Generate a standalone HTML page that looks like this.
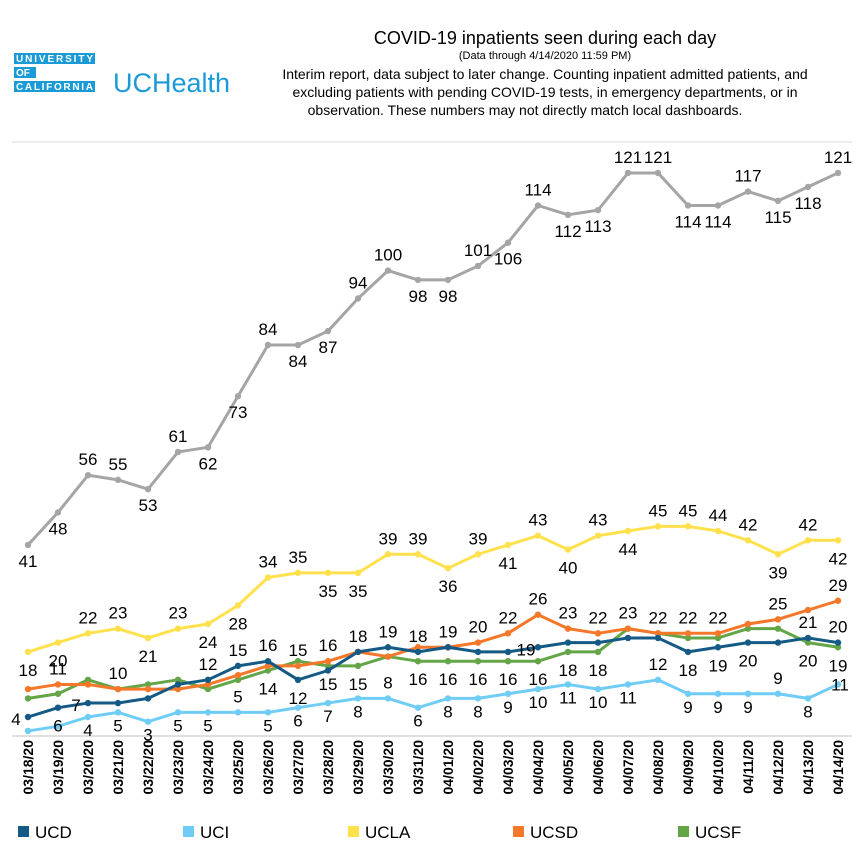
<!DOCTYPE html>
<html><head><meta charset="utf-8"><style>
body{margin:0;background:#fff;font-family:"Liberation Sans",Arial,sans-serif;}
#wrap{position:relative;width:866px;height:868px;overflow:hidden;}
</style></head><body>
<div id="wrap">
<svg id="svg" width="866" height="868" viewBox="0 0 866 868">
 <g>
  <rect x="14" y="53" width="81" height="11" fill="#1a9ad6"/>
  <rect x="14" y="67" width="22" height="11" fill="#1a9ad6"/>
  <rect x="14" y="81" width="81" height="11" fill="#1a9ad6"/>
  <text x="16" y="62" font-size="10" fill="#fff" font-weight="bold" textLength="77">UNIVERSITY</text>
  <text x="16" y="76" font-size="10" fill="#fff" font-weight="bold">OF</text>
  <text x="16" y="90" font-size="10" fill="#fff" font-weight="bold" textLength="77">CALIFORNIA</text>
  <text x="113" y="92" font-size="27" fill="#1a9ad6">UCHealth</text>
 </g>
 <text x="545" y="44" font-size="18" text-anchor="middle">COVID-19 inpatients seen during each day</text>
 <text x="545" y="59" font-size="11" text-anchor="middle">(Data through 4/14/2020 11:59 PM)</text>
 <g font-size="14" text-anchor="middle">
  <text x="545" y="79">Interim report, data subject to later change. Counting inpatient admitted patients, and</text>
  <text x="545" y="97">excluding patients with pending COVID-19 tests, in emergency departments, or in</text>
  <text x="525" y="115">observation.  These numbers may not directly match local dashboards.</text>
 </g>
 <line x1="12" y1="142" x2="852" y2="142" stroke="#d9d9d9"/>
 <line x1="12" y1="736" x2="852" y2="736" stroke="#bfbfbf"/>
 <g id="marks"></g>
 <g id="xlabels"></g>
 <g id="legend"></g>
</svg>
</div>
<script>
const dates=["03/18/20","03/19/20","03/20/20","03/21/20","03/22/20","03/23/20","03/24/20","03/25/20","03/26/20","03/27/20","03/28/20","03/29/20","03/30/20","03/31/20","04/01/20","04/02/20","04/03/20","04/04/20","04/05/20","04/06/20","04/07/20","04/08/20","04/09/20","04/10/20","04/11/20","04/12/20","04/13/20","04/14/20"];
const totalVals=[41,48,56,55,53,61,62,73,84,84,87,94,100,98,98,101,106,114,112,113,121,121,114,114,117,115,118,121];
const uclaVals=[18,20,22,23,21,23,24,28,34,35,35,35,39,39,36,39,41,43,40,43,44,45,45,44,42,39,42,42];
const ucsdVals=[10,11,11,10,10,10,11,13,15,15,16,18,17,19,19,20,22,26,23,22,23,22,22,22,24,25,27,29];
const ucdVals=[4,6,7,7,8,11,12,15,16,12,14,18,19,18,19,18,18,19,20,20,21,21,18,19,20,20,21,20];
const ucsfVals=[8,9,12,10,11,12,10,12,14,16,15,15,17,16,16,16,16,16,18,18,23,22,21,21,23,23,20,19];
const uciVals=[1,2,4,5,3,5,5,5,5,6,7,8,8,6,8,8,9,10,11,10,11,12,9,9,9,9,8,11];
const totalPos="bbaababbabbaabbababbaabbabba".split('');
const uclaPos="bbaababbaabbaababababaaaabab".split('');
const ucsdPos="-a-a-----aa----aaaaaaaaa-a-a".split('');
const ucdPos="lbl---aaab-aaaa--l----bbb-aa".split('');
const ucsfPos="--------b-bb-bbbbbbb------bb".split('');
const uciPos="--bbbbbabbbbabbbbbbbbabbbabr".split('');
const series=[
 {name:"total",vals:totalVals,pos:totalPos,color:"#a5a5a5",bo:22},
 {name:"ucla",vals:uclaVals,pos:uclaPos,color:"#ffe14d",bo:24},
 {name:"ucsf",vals:ucsfVals,pos:ucsfPos,color:"#63a547",bo:24},
 {name:"ucsd",vals:ucsdVals,pos:ucsdPos,color:"#f5772a",bo:24},
 {name:"ucd",vals:ucdVals,pos:ucdPos,color:"#145a85",bo:24},
 {name:"uci",vals:uciVals,pos:uciPos,color:"#6fcdf5",bo:19}
];
const legendNames=["UCD","UCI","UCLA","UCSD","UCSF"];
const legendColors=["#145a85","#6fcdf5","#ffe14d","#f5772a","#63a547"];
const NS="http://www.w3.org/2000/svg";
const xS=i=>28+i*30;
const yS=v=>735.6-v*4.65;
function mk(t,a,p){const e=document.createElementNS(NS,t);for(const k in a)e.setAttribute(k,a[k]);p.appendChild(e);return e;}
const marks=document.getElementById('marks');
series.forEach(s=>{
 const g=mk('g',{},marks);
 
 
 const l=mk('polyline',{points:s.vals.map((v,i)=>xS(i)+','+yS(v)).join(' '),fill:'none',stroke:s.color,'stroke-width':3,'stroke-linejoin':'round'},g);
 
 
 s.vals.forEach((v,i)=>{
  const c=mk('circle',{cx:xS(i),cy:yS(v),r:3.2,fill:s.color},g);
  
  
 });
});
series.forEach(s=>{
 s.vals.forEach((v,i)=>{
  const p=s.pos[i];if(!p||p==='-')return;
  let x=xS(i),y=yS(v);
  if(p==='a')y-=10;else if(p==='b')y+=s.bo;else if(p==='l'){x-=12;y+=8;}else if(p==='r'){x+=2;y+=6;}
  const t=mk('text',{x:x,y:y,'font-size':17,'text-anchor':'middle',fill:'#000'},marks);
  t.textContent=v;
  
  
 });
});
const xl=document.getElementById('xlabels');
dates.forEach((d,i)=>{
 const t=mk('text',{x:0,y:0,'font-size':14,'font-weight':'bold','text-anchor':'end',transform:`translate(${xS(i)+5},740) rotate(-90)`},xl);
 t.textContent=d;
 
 
});
const lg=document.getElementById('legend');
legendNames.forEach((n,i)=>{
 const g=mk('g',{},lg);
 
 
 const x=18+i*165;
 mk('rect',{x:x,y:826,width:11,height:11,fill:legendColors[i]},g);
 const t=mk('text',{x:x+17,y:838,'font-size':17},g);
 t.textContent=n;
});
</script>
</body></html>
